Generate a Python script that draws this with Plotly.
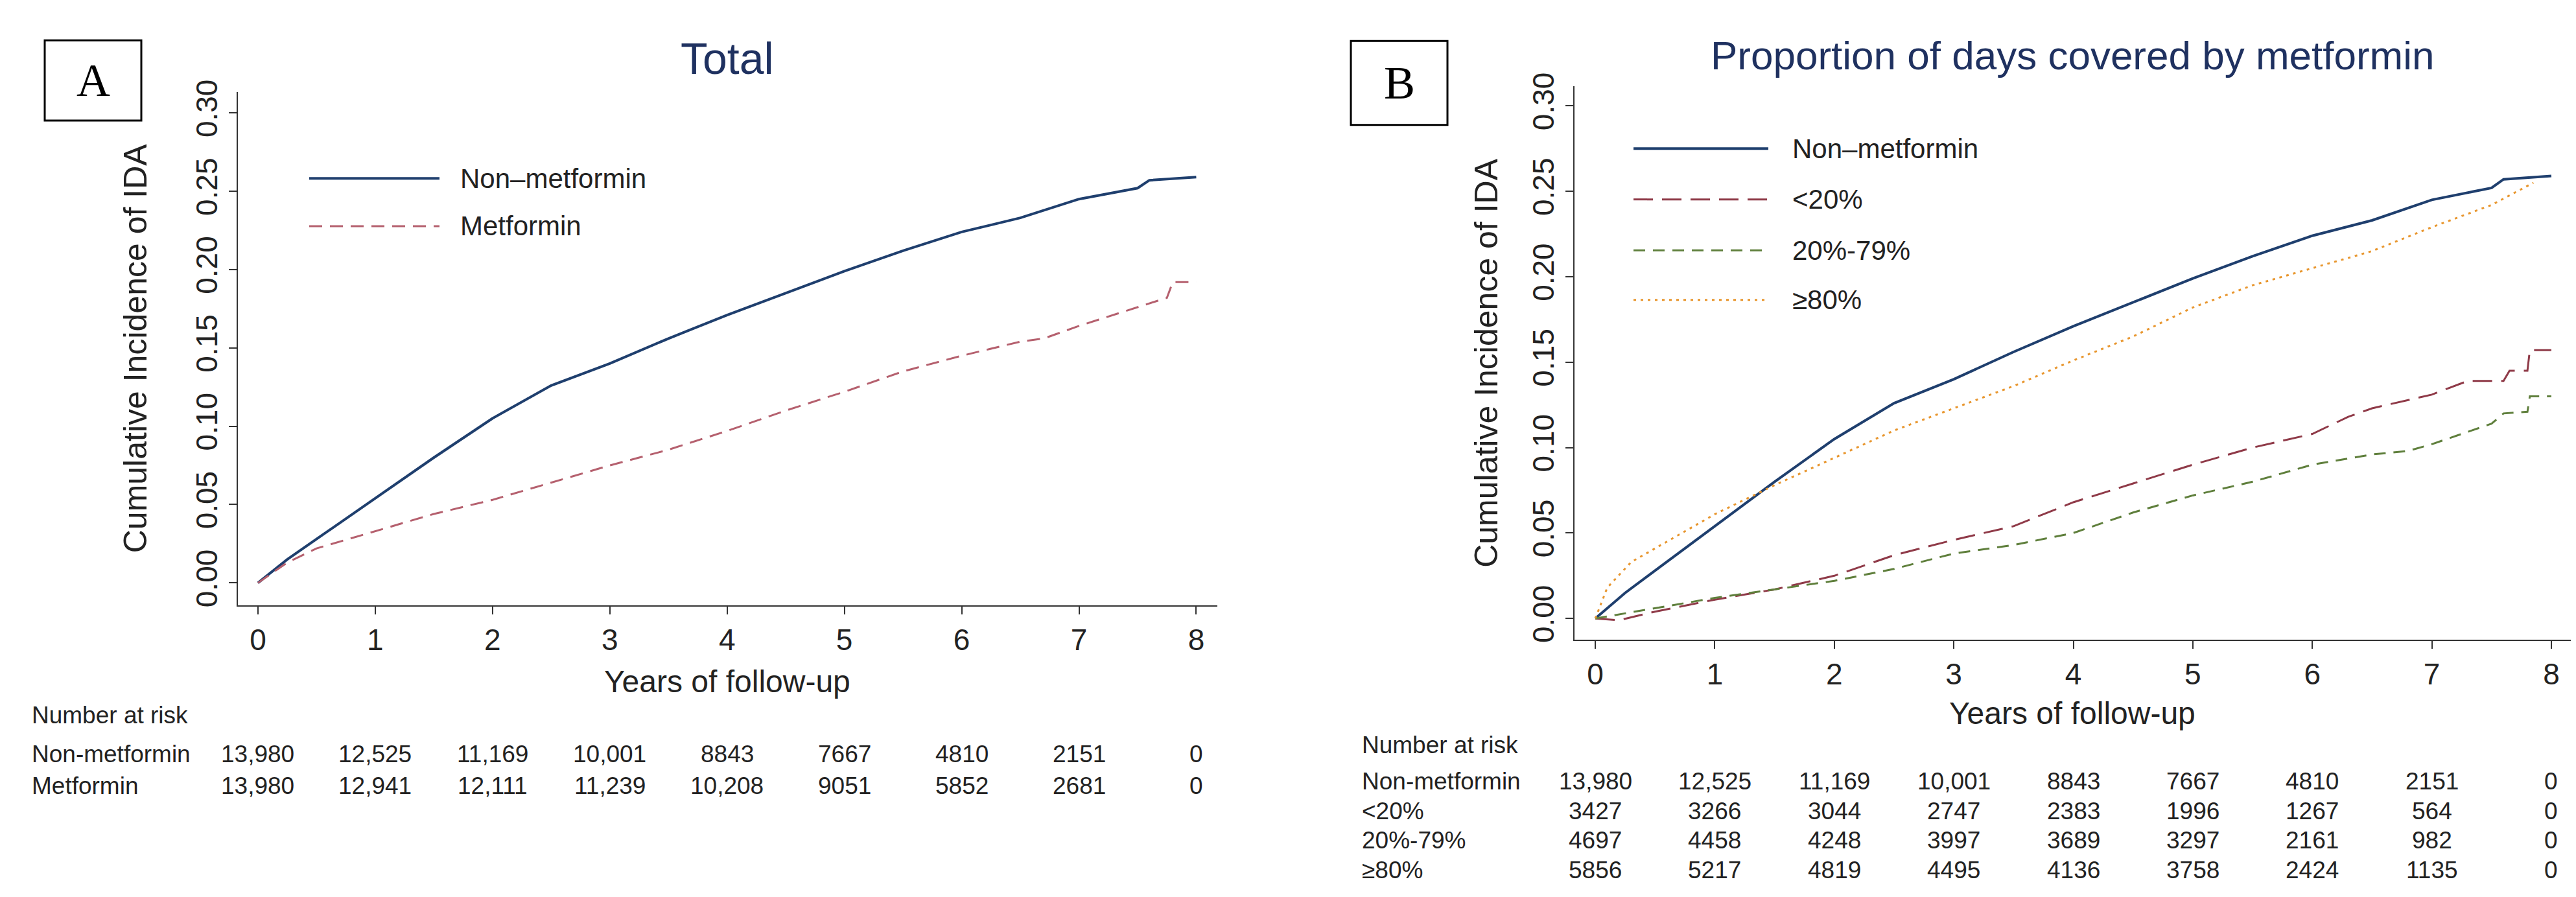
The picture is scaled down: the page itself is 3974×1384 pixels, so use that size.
import plotly.graph_objects as go

W, H = 3974, 1384
years = [0, 1, 2, 3, 4, 5, 6, 7, 8]

# Panel A
a_non_x = [0, 0.25, 0.5, 1, 1.5, 2, 2.5, 3, 3.5, 4, 4.5, 5, 5.5, 6, 6.5, 7, 7.5, 7.6, 8]
a_non_y = [0, 0.015, 0.028, 0.054, 0.08, 0.105, 0.126, 0.14, 0.156, 0.171, 0.185, 0.199, 0.212, 0.224, 0.233, 0.245, 0.252, 0.257, 0.259]
a_met_x = [0, 0.25, 0.5, 1, 1.5, 2, 2.5, 3, 3.5, 4, 4.5, 5, 5.5, 6, 6.5, 6.7, 7, 7.5, 7.75, 7.8, 8]
a_met_y = [0, 0.013, 0.022, 0.033, 0.044, 0.053, 0.064, 0.075, 0.085, 0.097, 0.11, 0.122, 0.135, 0.145, 0.154, 0.156, 0.164, 0.176, 0.182, 0.192, 0.192]

# Panel B
b_lt20_x = [0, 0.2, 0.5, 1, 1.5, 2, 2.5, 3, 3.5, 4, 4.5, 5, 5.5, 6, 6.3, 6.5, 7, 7.3, 7.6, 7.65, 7.8, 7.82, 8]
b_lt20_y = [0, -0.001, 0.004, 0.011, 0.017, 0.025, 0.037, 0.046, 0.054, 0.068, 0.079, 0.09, 0.1, 0.108, 0.118, 0.123, 0.131, 0.139, 0.139, 0.145, 0.145, 0.157, 0.157]
b_mid_x = [0, 0.5, 1, 1.5, 2, 2.5, 3, 3.5, 4, 4.5, 5, 5.5, 6, 6.5, 6.8, 7, 7.5, 7.6, 7.8, 7.82, 8]
b_mid_y = [0, 0.006, 0.012, 0.017, 0.022, 0.029, 0.038, 0.043, 0.05, 0.062, 0.072, 0.08, 0.09, 0.096, 0.098, 0.102, 0.114, 0.12, 0.121, 0.13, 0.13]
b_ge80_x = [0, 0.1, 0.3, 0.5, 1, 1.5, 2, 2.5, 3, 3.5, 4, 4.5, 5, 5.5, 6, 6.5, 7, 7.5, 7.85]
b_ge80_y = [0, 0.018, 0.033, 0.041, 0.061, 0.078, 0.094, 0.11, 0.123, 0.136, 0.151, 0.165, 0.182, 0.195, 0.205, 0.215, 0.229, 0.242, 0.255]

risk_a_labels = ["Non-metformin", "Metformin"]
risk_a = [["13,980", "12,525", "11,169", "10,001", "8843", "7667", "4810", "2151", "0"],
          ["13,980", "12,941", "12,111", "11,239", "10,208", "9051", "5852", "2681", "0"]]
risk_b_labels = ["Non-metformin", "<20%", "20%-79%", "≥80%"]
risk_b = [["13,980", "12,525", "11,169", "10,001", "8843", "7667", "4810", "2151", "0"],
          ["3427", "3266", "3044", "2747", "2383", "1996", "1267", "564", "0"],
          ["4697", "4458", "4248", "3997", "3689", "3297", "2161", "982", "0"],
          ["5856", "5217", "4819", "4495", "4136", "3758", "2424", "1135", "0"]]

NAVY, MAROON, PINK, GREEN, ORANGE = "#1f3f6e", "#8f3a48", "#b5606e", "#5f7f3c", "#e8962e"
FONT = "Liberation Sans"

fig = go.Figure()
fig.add_trace(go.Scatter(x=a_non_x, y=a_non_y, mode="lines", line=dict(color=NAVY, width=4), xaxis="x", yaxis="y"))
fig.add_trace(go.Scatter(x=a_met_x, y=a_met_y, mode="lines", line=dict(color=PINK, width=3, dash="20px,12px"), xaxis="x", yaxis="y"))
fig.add_trace(go.Scatter(x=a_non_x, y=a_non_y, mode="lines", line=dict(color=NAVY, width=4), xaxis="x2", yaxis="y2"))
fig.add_trace(go.Scatter(x=b_lt20_x, y=b_lt20_y, mode="lines", line=dict(color=MAROON, width=3, dash="30px,14px"), xaxis="x2", yaxis="y2"))
fig.add_trace(go.Scatter(x=b_mid_x, y=b_mid_y, mode="lines", line=dict(color=GREEN, width=3, dash="18px,12px"), xaxis="x2", yaxis="y2"))
fig.add_trace(go.Scatter(x=b_ge80_x, y=b_ge80_y, mode="lines", line=dict(color=ORANGE, width=3, dash="4px,7px"), xaxis="x2", yaxis="y2"))

axcommon = dict(showgrid=False, zeroline=False, showline=True, linecolor="#333", linewidth=2,
                ticks="outside", ticklen=12, tickwidth=2, tickcolor="#333",
                tickfont=dict(family=FONT, size=46, color="#222"))
fig.update_layout(
    width=W, height=H, margin=dict(l=0, r=0, t=0, b=0), showlegend=False,
    plot_bgcolor="white", paper_bgcolor="white",
    xaxis=dict(axcommon, domain=[359 / W, 1870 / W], range=[-0.171, 8.18], tickvals=years, anchor="y"),
    yaxis=dict(axcommon, domain=[1 - 922 / H, 1 - 115 / H], range=[-0.0142, 0.3134],
               tickvals=[0, 0.05, 0.1, 0.15, 0.2, 0.25, 0.3], tickformat=".2f", tickangle=-90, anchor="x"),
    xaxis2=dict(axcommon, domain=[2421 / W, 3958 / W], range=[-0.174, 8.163], tickvals=years, anchor="y2"),
    yaxis2=dict(axcommon, domain=[1 - 976 / H, 1 - 106 / H], range=[-0.0123, 0.3115],
                tickvals=[0, 0.05, 0.1, 0.15, 0.2, 0.25, 0.3], tickformat=".2f", tickangle=-90, anchor="x2"),
)

ann = []
shapes = []
def txt(x, y, s, size, anchor="center", xref="paper", color="#222", family=FONT, angle=0):
    ann.append(dict(x=x, y=y, xref=xref, yref="paper", text=s, showarrow=False, xanchor=anchor,
                    yanchor="middle", textangle=angle, font=dict(family=family, size=size, color=color)))

# titles and panel boxes
txt(1114 / W, 1 - 62 / H, "Total", 68, color="#1f3160")
txt(3189 / W, 1 - 58 / H, "Proportion of days covered by metformin", 62, color="#1f3160")
for (x0, x1, y0, y1, lab) in [(61, 210, 34, 160, "A"), (2076, 2225, 35, 167, "B")]:
    shapes.append(dict(type="rect", xref="paper", yref="paper", x0=x0 / W, x1=x1 / W, y0=1 - y1 / H, y1=1 - y0 / H,
                       line=dict(color="black", width=3)))
    txt((x0 + x1) / 2 / W, 1 - (y0 + y1) / 2 / H, lab, 72, family="Liberation Serif", color="black")

# axis titles
txt(201 / W, 1 - 518 / H, "Cumulative Incidence of IDA", 50, angle=-90)
txt(2285 / W, 1 - 541 / H, "Cumulative Incidence of IDA", 50, angle=-90)
txt(1114 / W, 1 - 1042 / H, "Years of follow-up", 48)
txt(3189 / W, 1 - 1092 / H, "Years of follow-up", 48)

# legends
def legend_item(x0, x1, y, color, dash, width, label, tx):
    shapes.append(dict(type="line", xref="paper", yref="paper", x0=x0 / W, x1=x1 / W, y0=1 - y / H, y1=1 - y / H,
                       line=dict(color=color, width=width, dash=dash)))
    txt(tx / W, 1 - y / H, label, 42, anchor="left")
legend_item(469, 670, 251, NAVY, "solid", 4, "Non–metformin", 700)
legend_item(469, 670, 326, PINK, "20px,12px", 3, "Metformin", 700)
legend_item(2512, 2720, 204, NAVY, "solid", 4, "Non–metformin", 2755)
legend_item(2512, 2720, 284, MAROON, "30px,14px", 3, "<20%", 2755)
legend_item(2512, 2720, 364, GREEN, "18px,12px", 3, "20%-79%", 2755)
legend_item(2512, 2720, 442, ORANGE, "4px,7px", 3, "≥80%", 2755)

# risk tables
TS = 37
txt(39 / W, 1 - 1095 / H, "Number at risk", TS, anchor="left")
for row, (lab, vals) in enumerate(zip(risk_a_labels, risk_a)):
    y = 1 - (1156 + 50 * row) / H
    txt(39 / W, y, lab, TS, anchor="left")
    for yr, v in zip(years, vals):
        txt(yr, y, v, TS, xref="x")
txt(2091 / W, 1 - 1142 / H, "Number at risk", TS, anchor="left")
for row, (lab, vals) in enumerate(zip(risk_b_labels, risk_b)):
    y = 1 - (1199 + 46.5 * row) / H
    txt(2091 / W, y, lab, TS, anchor="left")
    for yr, v in zip(years, vals):
        txt(yr, y, v, TS, xref="x2")

fig.update_layout(annotations=ann, shapes=shapes)
fig.write_html("out.html")
